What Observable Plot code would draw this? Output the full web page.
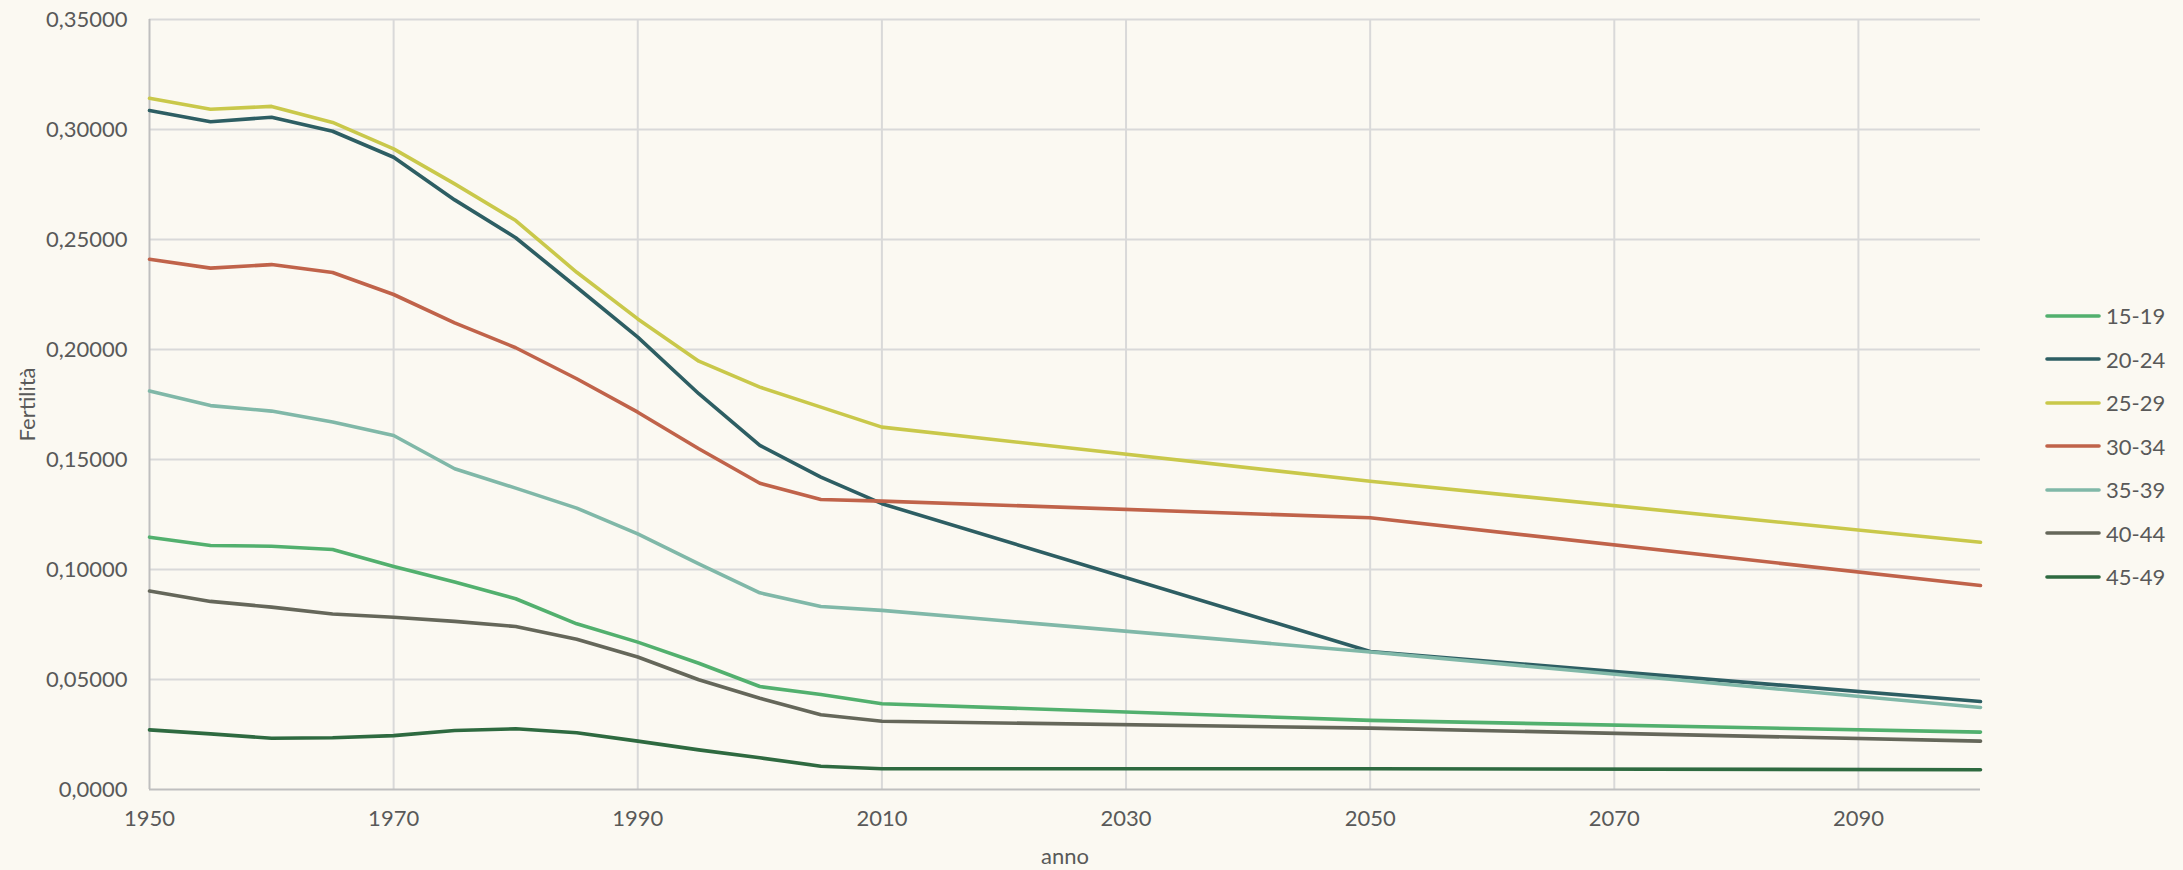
<!DOCTYPE html>
<html>
<head>
<meta charset="utf-8">
<script src="https://cdn.jsdelivr.net/npm/d3@7"></script>
<script src="https://cdn.jsdelivr.net/npm/@observablehq/plot@0.6"></script>
<style>
html, body { margin: 0; padding: 0; background: #fbf9f2; }
#wrap { position: relative; width: 2183px; height: 870px; background: #fbf9f2; }
#legend { position: absolute; left: 2045px; top: 294px; font-family: Lato, "Open Sans", sans-serif; font-size: 22px; color: #595959; }
.item { display: flex; align-items: center; height: 43.5px; }
.item svg { margin-right: 5px; }
</style>
</head>
<body>
<div id="wrap"><div id="legend"></div></div>
<script>
const years = [1950, 1955, 1960, 1965, 1970, 1975, 1980, 1985, 1990, 1995, 2000, 2005, 2010, 2050, 2100];
const seriesNames = ["15-19", "20-24", "25-29", "30-34", "35-39", "40-44", "45-49"];
const seriesColors = ["#52b06e", "#2d5e63", "#c9c84a", "#c0634a", "#80b8a8", "#65675a", "#2e6a40"];

const f15_19 = [0.1147, 0.1109, 0.1106, 0.1091, 0.1014, 0.0943, 0.0867, 0.0753, 0.0670, 0.0574, 0.0468, 0.0432, 0.0390, 0.0314, 0.0261];
const f20_24 = [0.3086, 0.3035, 0.3056, 0.2992, 0.2874, 0.2680, 0.2508, 0.2283, 0.2056, 0.1799, 0.1564, 0.1420, 0.1299, 0.0627, 0.0400];
const f25_29 = [0.3142, 0.3092, 0.3105, 0.3032, 0.2912, 0.2753, 0.2586, 0.2351, 0.2139, 0.1947, 0.1829, 0.1738, 0.1647, 0.1401, 0.1124];
const f30_34 = [0.2410, 0.2370, 0.2386, 0.2350, 0.2250, 0.2121, 0.2008, 0.1867, 0.1715, 0.1549, 0.1392, 0.1318, 0.1311, 0.1235, 0.0927];
const f35_39 = [0.1811, 0.1745, 0.1720, 0.1670, 0.1609, 0.1458, 0.1370, 0.1279, 0.1162, 0.1026, 0.0894, 0.0832, 0.0814, 0.0625, 0.0373];
const f40_44 = [0.0902, 0.0855, 0.0829, 0.0798, 0.0783, 0.0764, 0.0741, 0.0683, 0.0602, 0.0499, 0.0415, 0.0340, 0.0310, 0.0279, 0.0220];
const f45_49 = [0.0271, 0.0253, 0.0233, 0.0235, 0.0245, 0.0268, 0.0276, 0.0258, 0.0220, 0.0180, 0.0144, 0.0106, 0.0094, 0.0094, 0.0090];

const xTicks = [1950, 1970, 1990, 2010, 2030, 2050, 2070, 2090];
const yTicks = [0, 0.05, 0.10, 0.15, 0.20, 0.25, 0.30, 0.35];
const yTickLabels = ["0,0000", "0,05000", "0,10000", "0,15000", "0,20000", "0,25000", "0,30000", "0,35000"];

const allSeries = [f15_19, f20_24, f25_29, f30_34, f35_39, f40_44, f45_49];
const data = [];
seriesNames.forEach((name, si) => {
  years.forEach((yr, i) => data.push({anno: yr, value: allSeries[si][i], serie: name}));
});

const chart = Plot.plot({
  width: 2183,
  height: 870,
  marginLeft: 149,
  marginRight: 203,
  marginTop: 19,
  marginBottom: 81,
  style: {background: "transparent", fontFamily: "Lato, 'Open Sans', sans-serif", fontSize: "22px", color: "#595959"},
  x: {domain: [1950, 2100], label: null},
  y: {domain: [0, 0.35], label: null},
  color: {domain: seriesNames, range: seriesColors},
  marks: [
    Plot.gridX(xTicks.filter(t => t !== 1950), {stroke: "#d9d9d9", strokeOpacity: 1, strokeWidth: 2}),
    Plot.gridY(yTicks.filter(t => t !== 0), {stroke: "#d9d9d9", strokeOpacity: 1, strokeWidth: 2}),
    Plot.ruleX([1950], {stroke: "#bfbfbf", strokeWidth: 2}),
    Plot.ruleY([0], {stroke: "#bfbfbf", strokeWidth: 2}),
    Plot.axisX({ticks: xTicks, tickSize: 0, tickPadding: 21, tickFormat: d => String(d), label: "anno", labelAnchor: "center", labelArrow: "none", labelOffset: 74}),
    Plot.axisY({ticks: yTicks, tickSize: 0, tickPadding: 22, tickFormat: (d, i) => yTickLabels[yTicks.indexOf(d)], label: "Fertilità", labelAnchor: "center", labelArrow: "none", labelOffset: 130}),
    Plot.line(data, {x: "anno", y: "value", z: "serie", stroke: "serie", strokeWidth: 3.6, strokeLinecap: "round", strokeLinejoin: "round"})
  ]
});
document.getElementById("wrap").prepend(chart);

const legend = document.getElementById("legend");
seriesNames.forEach((name, i) => {
  const item = document.createElement("div");
  item.className = "item";
  item.innerHTML = `<svg width="56" height="8"><line x1="2" y1="4" x2="54" y2="4" stroke="${seriesColors[i]}" stroke-width="3.6" stroke-linecap="round"/></svg><span>${name}</span>`;
  legend.appendChild(item);
});
</script>
</body>
</html>
